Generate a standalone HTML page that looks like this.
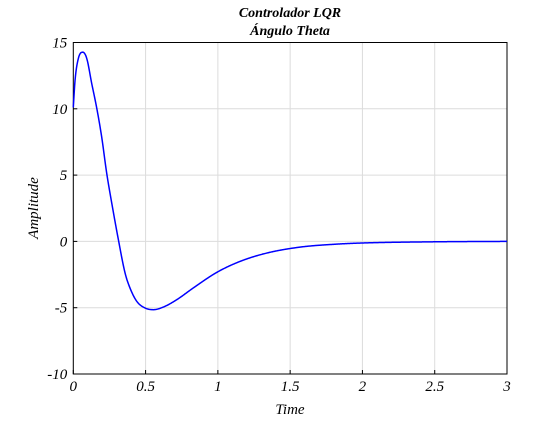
<!DOCTYPE html>
<html><head><meta charset="utf-8"><style>
body{margin:0;background:#fff;}
svg text{font-family:"Liberation Serif",serif;font-style:italic;fill:#000;}
</style></head><body>
<svg width="560" height="420">
<rect x="0" y="0" width="560" height="420" fill="#fff"/>
<g id="grid"></g>
<rect x="73.3" y="42.5" width="433.7" height="331.5" fill="none" stroke="#000" stroke-width="1"/>
<g id="ticks"></g>
<path id="line" fill="none" stroke="#0000ff" stroke-width="1.5"/>
<text x="290" y="17" text-anchor="middle" font-size="14" font-weight="bold">Controlador LQR</text>
<text x="290" y="35" text-anchor="middle" font-size="14" font-weight="bold">Ángulo Theta</text>
<text x="290" y="414" text-anchor="middle" font-size="15">Time</text>
<text x="38" y="208" text-anchor="middle" font-size="15" transform="rotate(-90 38 208)">Amplitude</text>
</svg>
<script>
const times=[0,0.012,0.035,0.065,0.093,0.127,0.162,0.196,0.231,0.266,0.311,0.358,0.392,0.439,0.496,0.554,0.623,0.715,0.83,0.992,1.153,1.338,1.569,1.8,2,2.5,3];
const values=[10.1,12.14,13.8,14.27,13.8,11.93,10.06,7.9,5.15,2.89,0.18,-2.38,-3.51,-4.52,-5.02,-5.15,-4.95,-4.4,-3.51,-2.34,-1.51,-0.88,-0.43,-0.22,-0.12,-0.03,0];
const xTicks=[0,0.5,1,1.5,2,2.5,3];
const xTickLabels=["0","0.5","1","1.5","2","2.5","3"];
const yTicks=[15,10,5,0,-5,-10];
const yTickLabels=["15","10","5","0","-5","-10"];
const X0=73.3,X1=507,Y0=374,Y1=42.5;
const sx=v=>X0+(v-0)/3*(X1-X0);
const sy=v=>Y0-(v+10)/25*(Y0-Y1);
const NS="http://www.w3.org/2000/svg";
const grid=document.getElementById('grid'),ticks=document.getElementById('ticks');
function mk(tag,attrs,parent){const e=document.createElementNS(NS,tag);for(const k in attrs)e.setAttribute(k,attrs[k]);parent.appendChild(e);return e;}
xTicks.forEach((t,i)=>{const x=sx(t);
 const g=mk('line',{x1:x,x2:x,y1:Y1,y2:Y0,stroke:'#dcdcdc','stroke-width':1},grid);
 
 
 const tk=mk('line',{x1:x,x2:x,y1:Y0,y2:Y0-4,stroke:'#000'},ticks);
 
 
 const tx=mk('text',{x:x,y:Y0+17,'text-anchor':'middle','font-size':15},ticks);tx.textContent=xTickLabels[i];
 
 
});
yTicks.forEach((t,i)=>{const y=sy(t);
 const g=mk('line',{x1:X0,x2:X1,y1:y,y2:y,stroke:'#dcdcdc','stroke-width':1},grid);
 
 
 const tk=mk('line',{x1:X0,x2:X0+4,y1:y,y2:y,stroke:'#000'},ticks);
 
 
 const tx=mk('text',{x:X0-6,y:y+5,'text-anchor':'end','font-size':15},ticks);tx.textContent=yTickLabels[i];
 
 
});
// monotone cubic (Fritsch-Carlson) interpolation in time domain
const n=times.length,dl=[],m=[];
for(let i=0;i<n-1;i++)dl.push((values[i+1]-values[i])/(times[i+1]-times[i]));
m[0]=dl[0];m[n-1]=dl[n-2];
for(let i=1;i<n-1;i++){m[i]=(dl[i-1]*dl[i]<=0)?0:(dl[i-1]+dl[i])/2;}
for(let i=0;i<n-1;i++){if(dl[i]===0){m[i]=0;m[i+1]=0;continue;}const a=m[i]/dl[i],b=m[i+1]/dl[i],s=a*a+b*b;if(s>9){const t=3/Math.sqrt(s);m[i]=t*a*dl[i];m[i+1]=t*b*dl[i];}}
let d='';
for(let i=0;i<n-1;i++){const h=times[i+1]-times[i];const steps=Math.max(4,Math.ceil(h*300));
 for(let k=(i===0?0:1);k<=steps;k++){const u=k/steps,t=times[i]+u*h;
  const h00=2*u*u*u-3*u*u+1,h10=u*u*u-2*u*u+u,h01=-2*u*u*u+3*u*u,h11=u*u*u-u*u;
  const v=h00*values[i]+h10*h*m[i]+h01*values[i+1]+h11*h*m[i+1];
  d+=(d?'L':'M')+sx(t).toFixed(2)+','+sy(v).toFixed(2);}}
document.getElementById('line').setAttribute('d',d);
</script>
</body></html>
